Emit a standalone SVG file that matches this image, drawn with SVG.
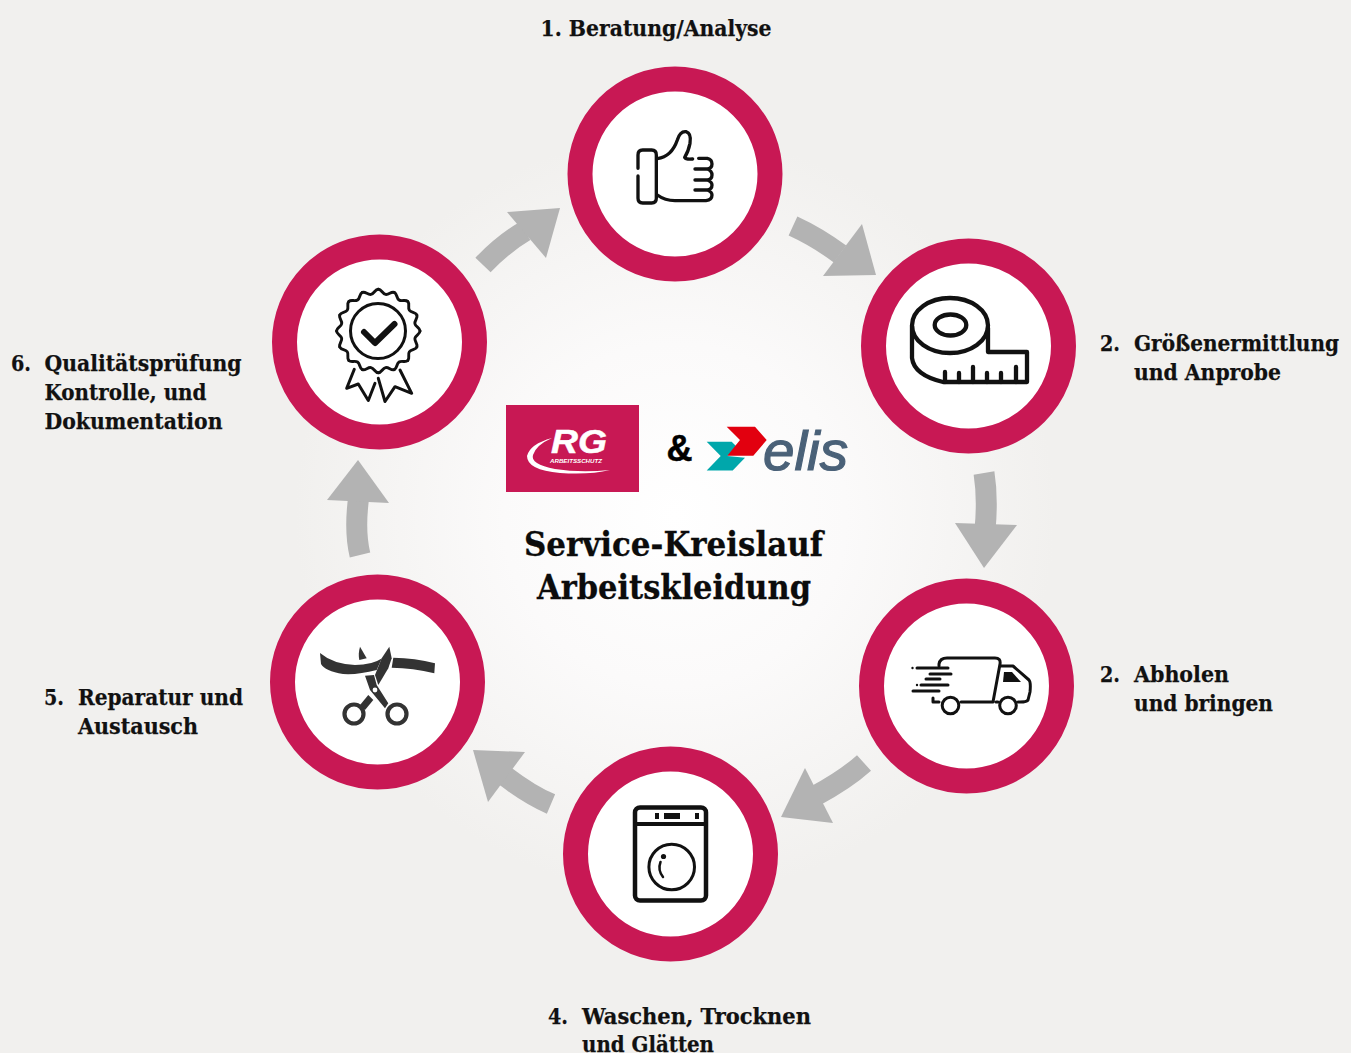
<svg xmlns="http://www.w3.org/2000/svg" width="1351" height="1053" viewBox="0 0 1351 1053">
<defs>
<radialGradient id="bg" gradientUnits="userSpaceOnUse" cx="675" cy="515" r="380">
<stop offset="0" stop-color="#ffffff"/><stop offset="0.45" stop-color="#fbfafa"/><stop offset="1" stop-color="#f1f0ee"/>
</radialGradient>
<path id="wave" d="M0 -43C3.500 -43 4.080 -38.440 7.510 -37.760S13.200 -41.070 16.460 -39.730"/>
</defs>
<style>
.ring{fill:#fff;stroke:#c81854;stroke-width:25}
.ic{fill:none;stroke:#111;stroke-width:3.2;stroke-linecap:round;stroke-linejoin:round}
.icb{fill:#111;stroke:none}
.sc{fill:#333}
.body{fill:none;stroke:#b3b3b3;stroke-width:21}
.head{fill:#b3b3b3}
.lbl{font-family:"DejaVu Serif","Liberation Serif",serif;font-weight:700;font-size:22px;fill:#111;stroke:#111;stroke-width:.25}
.ttl{font-family:"DejaVu Serif","Liberation Serif",serif;font-weight:700;font-size:33px;fill:#0c0c0c;stroke:#0c0c0c;stroke-width:.3}
</style>
<rect width="1351" height="1053" fill="#f1f0ee"/>
<circle cx="675" cy="515" r="380" fill="url(#bg)"/>
<g id="connectors">
<path class="body" d="M483 265Q503 244 525 231"/><polygon class="head" points="507,212 560,208 546,258"/>
<path class="body" d="M793 226Q817 237 840 254"/><polygon class="head" points="862,224 876,275 823,276"/>
<path class="body" d="M984 473Q988 498 985 530"/><polygon class="head" points="955,523 1017,525 984,568"/>
<path class="body" d="M864 763Q845 780 815 796"/><polygon class="head" points="833,823 781,817 805,768"/>
<path class="body" d="M551 804Q530 795 505 776"/><polygon class="head" points="525,752 473,750 488,802"/>
<path class="body" d="M360 555Q354 530 359 495"/><polygon class="head" points="327,500 358,460 389,503"/>
</g>
<g id="node1"><circle class="ring" cx="675" cy="174" r="95"/>
<g class="ic" transform="translate(600 100) scale(.3333)" style="stroke-width:10">
<path d="M114 205V165Q114 150 128 150H155Q169 150 169 165V295Q169 309 155 309H128Q114 309 114 295V228"/>
<path d="M172 176Q215 170 232 120Q240 93 258 95Q275 100 270 130Q265 155 254 172Q258 179 278 177"/>
<path d="M296 175H322Q336 178 336 192Q336 205 322 207H285M322 207Q336 212 336 225Q336 238 322 240H285M322 240Q336 245 336 255Q336 268 322 270H285M322 270Q336 275 336 285Q336 300 318 302H225Q195 302 172 285"/>
</g></g>
<g id="node2"><circle class="ring" cx="968.500" cy="346" r="95"/>
<g class="ic" style="stroke-width:4.300">
<ellipse cx="950" cy="325.500" rx="38" ry="27.500"/><ellipse cx="950.500" cy="325" rx="15.800" ry="10.500"/>
<path d="M912 326V358Q914 375 943 382H1027V352H988M988 328V352"/>
<path d="M945 382V372M959 382V373M973 382V367M987 382V373M1001 382V373M1016 382V367"/>
</g></g>
<g id="node3"><circle class="ring" cx="966.500" cy="686" r="95"/>
<g class="ic" style="stroke-width:3">
<path d="M939 666V664Q940 658 947 658H995Q1001 658 1000 664L993 702H961M939 702H933V698M1000 666H1013L1029 680Q1031 682 1030 692L1028 700Q1027 702 1020 702H1018M996 702H998"/>
<circle cx="950.500" cy="705.500" r="8.300"/><circle cx="1008" cy="705.500" r="8.300"/>
<path d="M917 668H948M930 674H951M926 679H940M921 685H948M913 691H939"/>
</g>
<path class="icb" d="M1004 672H1012L1021 682H1003Z"/><circle class="icb" cx="912.500" cy="668" r="1.200"/><circle class="icb" cx="917" cy="685" r="1.200"/>
</g>
<g id="node4"><circle class="ring" cx="670.500" cy="854" r="95"/>
<g class="ic" style="stroke-width:4.500">
<rect x="635" y="807.500" width="71" height="93" rx="5"/><path d="M635 824H706" style="stroke-width:4"/>
</g>
<g class="ic" style="stroke-width:3"><circle cx="671.700" cy="867" r="22.800"/></g>
<path class="ic" style="stroke-width:2.500" d="M660.500 862Q657.500 870 663 877"/>
<circle class="icb" cx="663.500" cy="856.500" r="2.600"/>
<rect class="icb" x="655" y="813" width="4" height="6"/><rect class="icb" x="664" y="813" width="16" height="6"/><rect class="icb" x="695" y="813" width="4" height="6"/>
</g>
<g id="node5"><circle class="ring" cx="377.500" cy="682" r="95"/>
<path class="sc" d="M320 653Q333 664 355 665Q372 665 381.700 658.500L376.700 670Q358 675 343 674Q325 671 321 664Z"/>
<path class="sc" d="M393.300 657.700Q415 658 435 663.300L434.300 673.300Q413 668 391.700 667.700Z"/>
<path class="sc" d="M360 646.700L366.700 658.300L359.300 660Q358 654 360 646.700Z"/>
<path class="sc" d="M389.300 646.700L391.700 658.300L388.300 668.300L378.300 685L375 675L381.700 658.300Z"/>
<path class="sc" d="M365 675.700L374 675L376.700 685L388.300 703.300L385 708.300L370 690Z"/>
<path class="sc" d="M368.300 695L373.300 700L365 710L360 705Z"/>
<circle cx="354" cy="714" r="9.500" fill="none" stroke="#333" stroke-width="4.200"/><circle cx="397" cy="714" r="9.500" fill="none" stroke="#333" stroke-width="4.200"/>
<circle cx="375" cy="690" r="2.400" fill="#fff"/>
</g>
<g id="node6"><circle class="ring" cx="379.500" cy="342" r="95"/>
<g class="ic" style="stroke-width:3" transform="translate(378.300 331) scale(.97)">
<use href="#wave"/><use href="#wave" transform="rotate(22.500)"/><use href="#wave" transform="rotate(45)"/><use href="#wave" transform="rotate(67.500)"/><use href="#wave" transform="rotate(90)"/><use href="#wave" transform="rotate(112.500)"/><use href="#wave" transform="rotate(135)"/><use href="#wave" transform="rotate(157.500)"/><use href="#wave" transform="rotate(180)"/><use href="#wave" transform="rotate(202.500)"/><use href="#wave" transform="rotate(225)"/><use href="#wave" transform="rotate(247.500)"/><use href="#wave" transform="rotate(270)"/><use href="#wave" transform="rotate(292.500)"/><use href="#wave" transform="rotate(315)"/><use href="#wave" transform="rotate(337.500)"/>
</g>
<g class="ic" style="stroke-width:3">
<circle cx="378" cy="331" r="27.500"/>
<path d="M354.300 369.300L346.700 388.300L358.300 384L368.300 400.500L375 383.300M378.300 378.300L385 401.500L395 386.700L411.700 393.300L400 370"/>
</g>
<path d="M364 332L375 343L394.500 324" fill="none" stroke="#111" stroke-width="6" stroke-linecap="round" stroke-linejoin="round"/>
</g>
<g id="logos">
<rect x="506" y="405" width="133" height="87" fill="#c81854"/>
<text x="551" y="452.500" font-family="Liberation Sans,sans-serif" font-weight="700" font-style="italic" font-size="33" fill="#fff" stroke="#fff" stroke-width=".5" textLength="56" lengthAdjust="spacingAndGlyphs">RG</text>
<text x="550" y="462.500" font-family="Liberation Sans,sans-serif" font-weight="700" font-style="italic" font-size="5.500" fill="#fff" textLength="52" lengthAdjust="spacingAndGlyphs">ARBEITSSCHUTZ</text>
<path d="M552 438Q530 444 527 456Q527 470 560 473Q590 475 610 470Q580 473 555 469Q530 464 533 455Q536 445 552 438Z" fill="#fff"/>
<text x="666.500" y="461" font-family="Liberation Sans,sans-serif" font-weight="700" font-size="36" fill="#000" stroke="#000" stroke-width=".5">&amp;</text>
<polygon points="706.700,441.700 731.700,441.700 738,448 727.300,456 745,457.700 732.700,470.500 706.700,470.500 720.700,456" fill="#00a7ab"/>
<polygon points="726.700,426.700 755,426.700 766.700,440 753.300,455.700 727.300,455.700 740,440" fill="#e2000f"/>
<text x="763" y="470" font-family="Liberation Sans,sans-serif" font-style="italic" font-size="56" fill="#4a6178" stroke="#4a6178" stroke-width="1.200" textLength="85" lengthAdjust="spacingAndGlyphs">elis</text>
</g>
<g id="title">
<text class="ttl" x="524" y="556" textLength="299" lengthAdjust="spacingAndGlyphs">Service-Kreislauf</text>
<text class="ttl" x="537" y="599" textLength="274" lengthAdjust="spacingAndGlyphs">Arbeitskleidung</text>
</g>
<g id="labels">
<text class="lbl" x="540.500" y="35.500" textLength="231" lengthAdjust="spacingAndGlyphs">1. Beratung/Analyse</text>
<text class="lbl" x="1100" y="350.500" textLength="20" lengthAdjust="spacingAndGlyphs">2.</text>
<text class="lbl" x="1134" y="350.500" textLength="205" lengthAdjust="spacingAndGlyphs">Größenermittlung</text>
<text class="lbl" x="1134" y="379.500" textLength="147" lengthAdjust="spacingAndGlyphs">und Anprobe</text>
<text class="lbl" x="1100" y="681.500" textLength="20" lengthAdjust="spacingAndGlyphs">2.</text>
<text class="lbl" x="1134" y="681.500" textLength="95" lengthAdjust="spacingAndGlyphs">Abholen</text>
<text class="lbl" x="1134" y="710.500" textLength="139" lengthAdjust="spacingAndGlyphs">und bringen</text>
<text class="lbl" x="548" y="1023.500" textLength="20" lengthAdjust="spacingAndGlyphs">4.</text>
<text class="lbl" x="582" y="1023.500" textLength="229" lengthAdjust="spacingAndGlyphs">Waschen, Trocknen</text>
<text class="lbl" x="582" y="1051.500" textLength="132" lengthAdjust="spacingAndGlyphs">und Glätten</text>
<text class="lbl" x="44" y="704.500" textLength="20" lengthAdjust="spacingAndGlyphs">5.</text>
<text class="lbl" x="78" y="704.500" textLength="165" lengthAdjust="spacingAndGlyphs">Reparatur und</text>
<text class="lbl" x="78" y="733.500" textLength="120" lengthAdjust="spacingAndGlyphs">Austausch</text>
<text class="lbl" x="11" y="370.500" textLength="20" lengthAdjust="spacingAndGlyphs">6.</text>
<text class="lbl" x="44.500" y="370.500" textLength="197" lengthAdjust="spacingAndGlyphs">Qualitätsprüfung</text>
<text class="lbl" x="44.500" y="399.500" textLength="162" lengthAdjust="spacingAndGlyphs">Kontrolle, und</text>
<text class="lbl" x="44.500" y="428.500" textLength="178" lengthAdjust="spacingAndGlyphs">Dokumentation</text>
</g>
</svg>
